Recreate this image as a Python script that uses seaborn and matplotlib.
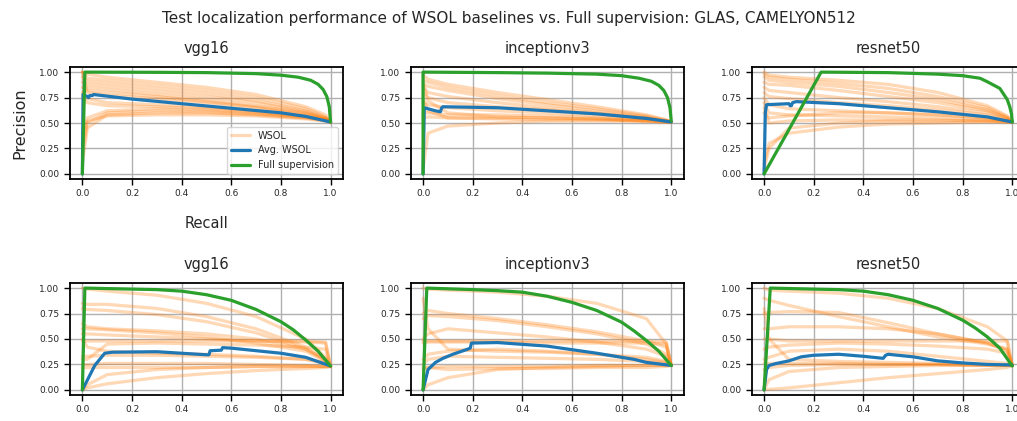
import matplotlib
matplotlib.use("Agg")
import matplotlib.pyplot as plt
import seaborn as sns

# shared recall grid for the WSOL curves
recall_grid = [0, 0.02, 0.1, 0.3, 0.5, 0.7, 0.9, 0.98, 1.0]

# ---- GLAS ----
glas_vgg_wsol = [
    [1.0, 0.98, 0.95, 0.90, 0.85, 0.78, 0.66, 0.58, 0.51],
    [1.0, 0.94, 0.92, 0.87, 0.82, 0.75, 0.64, 0.56, 0.51],
    [0.95, 0.91, 0.89, 0.84, 0.79, 0.72, 0.62, 0.55, 0.51],
    [0.90, 0.88, 0.86, 0.81, 0.76, 0.70, 0.61, 0.55, 0.51],
    [0.85, 0.85, 0.83, 0.78, 0.73, 0.67, 0.60, 0.54, 0.51],
    [0.80, 0.82, 0.80, 0.76, 0.71, 0.66, 0.59, 0.54, 0.51],
    [0.78, 0.74, 0.70, 0.68, 0.66, 0.62, 0.57, 0.53, 0.51],
    [0.75, 0.70, 0.67, 0.66, 0.64, 0.61, 0.56, 0.53, 0.51],
    [0.20, 0.50, 0.60, 0.62, 0.61, 0.59, 0.55, 0.53, 0.51],
    [0.10, 0.45, 0.58, 0.60, 0.60, 0.58, 0.55, 0.52, 0.51],
    [0.40, 0.55, 0.62, 0.64, 0.63, 0.60, 0.56, 0.53, 0.51],
    [1.0, 0.80, 0.77, 0.74, 0.70, 0.65, 0.58, 0.54, 0.51],
    [0.30, 0.52, 0.57, 0.58, 0.58, 0.57, 0.54, 0.52, 0.51],
]
glas_vgg_avg_r = [0, 0.003, 0.02, 0.025, 0.03, 0.04, 0.045, 0.2, 0.4, 0.6, 0.8, 0.9, 1.0]
glas_vgg_avg_p = [0.0, 0.78, 0.76, 0.75, 0.77, 0.77, 0.78, 0.735, 0.69, 0.645, 0.60, 0.565, 0.51]
glas_vgg_full_r = [0, 0.01, 0.3, 0.5, 0.7, 0.8, 0.87, 0.92, 0.95, 0.97, 0.985, 0.995, 1.0]
glas_vgg_full_p = [0.0, 1.0, 0.998, 0.995, 0.985, 0.97, 0.95, 0.92, 0.88, 0.83, 0.76, 0.66, 0.51]

glas_inc_wsol = [
    [0.97, 0.93, 0.88, 0.80, 0.73, 0.66, 0.58, 0.53, 0.51],
    [0.92, 0.90, 0.85, 0.77, 0.70, 0.64, 0.57, 0.53, 0.51],
    [0.88, 0.86, 0.82, 0.74, 0.68, 0.62, 0.56, 0.52, 0.51],
    [0.85, 0.80, 0.76, 0.70, 0.65, 0.60, 0.55, 0.52, 0.51],
    [0.80, 0.75, 0.70, 0.66, 0.63, 0.59, 0.55, 0.52, 0.51],
    [0.70, 0.68, 0.65, 0.62, 0.60, 0.57, 0.54, 0.52, 0.51],
    [0.60, 0.60, 0.58, 0.58, 0.57, 0.55, 0.53, 0.52, 0.51],
    [0.55, 0.56, 0.55, 0.55, 0.55, 0.54, 0.52, 0.51, 0.51],
    [0.05, 0.40, 0.47, 0.50, 0.52, 0.52, 0.52, 0.51, 0.51],
    [0.75, 0.62, 0.55, 0.54, 0.53, 0.53, 0.52, 0.51, 0.51],
    [0.90, 0.72, 0.60, 0.56, 0.55, 0.54, 0.52, 0.51, 0.51],
]
glas_inc_avg_r = [0, 0.005, 0.02, 0.05, 0.07, 0.075, 0.08, 0.3, 0.5, 0.7, 0.9, 1.0]
glas_inc_avg_p = [0.0, 0.65, 0.64, 0.62, 0.61, 0.65, 0.66, 0.65, 0.62, 0.59, 0.545, 0.51]
glas_inc_full_r = [0, 0.0, 0.3, 0.5, 0.7, 0.8, 0.87, 0.92, 0.95, 0.97, 0.985, 0.995, 1.0]
glas_inc_full_p = [0.0, 1.0, 0.995, 0.99, 0.98, 0.965, 0.94, 0.91, 0.87, 0.82, 0.75, 0.65, 0.52]

glas_res_wsol = [
    [1.0, 0.97, 0.95, 0.92, 0.88, 0.80, 0.67, 0.57, 0.51],
    [0.98, 0.95, 0.93, 0.89, 0.84, 0.76, 0.65, 0.56, 0.51],
    [0.95, 0.92, 0.90, 0.86, 0.80, 0.73, 0.63, 0.55, 0.51],
    [0.90, 0.88, 0.87, 0.82, 0.76, 0.70, 0.62, 0.55, 0.51],
    [0.85, 0.82, 0.80, 0.75, 0.71, 0.66, 0.60, 0.54, 0.51],
    [0.80, 0.76, 0.74, 0.70, 0.67, 0.63, 0.58, 0.53, 0.51],
    [0.75, 0.68, 0.64, 0.62, 0.60, 0.58, 0.55, 0.52, 0.51],
    [0.70, 0.60, 0.58, 0.57, 0.56, 0.55, 0.53, 0.52, 0.51],
    [0.65, 0.50, 0.52, 0.53, 0.53, 0.53, 0.52, 0.51, 0.51],
    [0.10, 0.30, 0.40, 0.46, 0.49, 0.50, 0.51, 0.51, 0.51],
    [0.05, 0.25, 0.45, 0.50, 0.52, 0.52, 0.52, 0.51, 0.51],
    [0.60, 0.55, 0.57, 0.60, 0.60, 0.58, 0.55, 0.52, 0.51],
]
glas_res_avg_r = [0, 0.005, 0.01, 0.1, 0.105, 0.11, 0.115, 0.13, 0.3, 0.5, 0.7, 0.9, 1.0]
glas_res_avg_p = [0.0, 0.60, 0.68, 0.69, 0.67, 0.67, 0.70, 0.71, 0.69, 0.65, 0.61, 0.56, 0.51]
glas_res_full_r = [0, 0.23, 0.5, 0.7, 0.8, 0.87, 0.9, 0.95, 0.98, 0.99, 0.997, 1.0]
glas_res_full_p = [0.0, 1.0, 0.995, 0.98, 0.965, 0.94, 0.905, 0.84, 0.73, 0.66, 0.59, 0.51]

# ---- CAMELYON512 ----
cam_vgg_wsol = [
    [1.0, 0.99, 0.97, 0.93, 0.85, 0.72, 0.50, 0.32, 0.23],
    [0.85, 0.84, 0.84, 0.80, 0.72, 0.60, 0.42, 0.30, 0.23],
    [0.80, 0.79, 0.78, 0.74, 0.67, 0.56, 0.40, 0.29, 0.23],
    [0.60, 0.60, 0.59, 0.56, 0.52, 0.46, 0.38, 0.28, 0.23],
    [0.55, 0.55, 0.54, 0.52, 0.50, 0.48, 0.48, 0.47, 0.23],
    [0.48, 0.48, 0.48, 0.48, 0.48, 0.48, 0.47, 0.46, 0.23],
    [0.33, 0.33, 0.34, 0.34, 0.33, 0.32, 0.30, 0.27, 0.23],
    [0.30, 0.30, 0.45, 0.46, 0.45, 0.44, 0.42, 0.40, 0.23],
    [0.25, 0.25, 0.26, 0.26, 0.26, 0.25, 0.24, 0.23, 0.23],
    [0.0, 0.02, 0.06, 0.12, 0.16, 0.19, 0.21, 0.22, 0.23],
    [0.0, 0.05, 0.15, 0.20, 0.22, 0.23, 0.23, 0.23, 0.23],
    [0.22, 0.22, 0.22, 0.22, 0.22, 0.23, 0.23, 0.23, 0.23],
    [0.50, 0.42, 0.38, 0.36, 0.35, 0.33, 0.30, 0.26, 0.23],
    [0.65, 0.62, 0.60, 0.58, 0.55, 0.50, 0.40, 0.30, 0.23],
]
cam_vgg_avg_r = [0, 0.05, 0.09, 0.12, 0.3, 0.5, 0.51, 0.515, 0.56, 0.565, 0.6, 0.8, 0.9, 1.0]
cam_vgg_avg_p = [0.0, 0.24, 0.36, 0.37, 0.375, 0.345, 0.345, 0.385, 0.39, 0.415, 0.41, 0.36, 0.32, 0.235]
cam_vgg_full_r = [0, 0.01, 0.2, 0.3, 0.4, 0.5, 0.6, 0.7, 0.8, 0.85, 0.9, 0.95, 1.0]
cam_vgg_full_p = [0.0, 1.0, 0.99, 0.985, 0.97, 0.935, 0.88, 0.79, 0.67, 0.59, 0.49, 0.38, 0.235]

cam_inc_wsol = [
    [1.0, 0.99, 0.98, 0.96, 0.92, 0.85, 0.70, 0.45, 0.24],
    [0.75, 0.78, 0.75, 0.70, 0.64, 0.57, 0.48, 0.42, 0.24],
    [0.70, 0.73, 0.72, 0.68, 0.62, 0.55, 0.45, 0.35, 0.24],
    [0.50, 0.55, 0.60, 0.56, 0.52, 0.47, 0.40, 0.33, 0.24],
    [0.48, 0.48, 0.48, 0.48, 0.48, 0.48, 0.48, 0.47, 0.24],
    [0.46, 0.47, 0.47, 0.47, 0.46, 0.46, 0.46, 0.45, 0.24],
    [0.30, 0.35, 0.38, 0.40, 0.38, 0.35, 0.30, 0.27, 0.24],
    [0.25, 0.30, 0.33, 0.32, 0.31, 0.30, 0.28, 0.26, 0.24],
    [0.22, 0.22, 0.23, 0.23, 0.23, 0.24, 0.24, 0.24, 0.24],
    [0.0, 0.05, 0.12, 0.20, 0.22, 0.23, 0.24, 0.24, 0.24],
    [0.20, 0.22, 0.20, 0.21, 0.21, 0.22, 0.22, 0.23, 0.24],
    [0.90, 0.60, 0.40, 0.38, 0.37, 0.35, 0.32, 0.28, 0.24],
]
cam_inc_avg_r = [0, 0.02, 0.05, 0.08, 0.12, 0.18, 0.19, 0.195, 0.3, 0.5, 0.7, 0.85, 0.9, 1.0]
cam_inc_avg_p = [0.0, 0.20, 0.27, 0.31, 0.35, 0.40, 0.41, 0.46, 0.465, 0.43, 0.36, 0.30, 0.27, 0.24]
cam_inc_full_r = [0, 0.015, 0.2, 0.3, 0.4, 0.5, 0.6, 0.7, 0.8, 0.85, 0.9, 0.95, 1.0]
cam_inc_full_p = [0.0, 1.0, 0.985, 0.975, 0.96, 0.92, 0.86, 0.78, 0.665, 0.58, 0.485, 0.38, 0.24]

cam_res_wsol = [
    [1.0, 0.98, 0.97, 0.95, 0.90, 0.80, 0.62, 0.48, 0.24],
    [0.90, 0.88, 0.83, 0.72, 0.62, 0.52, 0.45, 0.40, 0.24],
    [0.75, 0.76, 0.77, 0.76, 0.66, 0.55, 0.46, 0.40, 0.24],
    [0.60, 0.60, 0.62, 0.62, 0.60, 0.55, 0.46, 0.38, 0.24],
    [0.50, 0.50, 0.48, 0.48, 0.48, 0.48, 0.48, 0.48, 0.24],
    [0.40, 0.42, 0.44, 0.46, 0.45, 0.43, 0.40, 0.36, 0.24],
    [0.30, 0.32, 0.38, 0.40, 0.38, 0.33, 0.28, 0.26, 0.24],
    [0.26, 0.26, 0.26, 0.26, 0.25, 0.25, 0.24, 0.24, 0.24],
    [0.20, 0.22, 0.24, 0.25, 0.25, 0.25, 0.24, 0.24, 0.24],
    [0.0, 0.005, 0.02, 0.07, 0.12, 0.16, 0.20, 0.22, 0.24],
    [0.0, 0.10, 0.18, 0.22, 0.23, 0.24, 0.24, 0.24, 0.24],
    [0.80, 0.50, 0.30, 0.28, 0.27, 0.26, 0.25, 0.24, 0.24],
]
cam_res_avg_r = [0, 0.01, 0.02, 0.05, 0.1, 0.15, 0.2, 0.3, 0.4, 0.48, 0.49, 0.5, 0.6, 0.7, 0.8, 0.9, 1.0]
cam_res_avg_p = [0.0, 0.20, 0.24, 0.26, 0.285, 0.325, 0.34, 0.35, 0.33, 0.31, 0.34, 0.35, 0.325, 0.285, 0.265, 0.25, 0.245]
cam_res_full_r = [0, 0.025, 0.2, 0.3, 0.4, 0.5, 0.6, 0.7, 0.8, 0.85, 0.9, 0.95, 1.0]
cam_res_full_p = [0.0, 1.0, 0.99, 0.985, 0.97, 0.935, 0.88, 0.80, 0.685, 0.61, 0.52, 0.41, 0.235]

model_names = ["vgg16", "inceptionv3", "resnet50"]

panels = [
    [(glas_vgg_wsol, glas_vgg_avg_r, glas_vgg_avg_p, glas_vgg_full_r, glas_vgg_full_p),
     (glas_inc_wsol, glas_inc_avg_r, glas_inc_avg_p, glas_inc_full_r, glas_inc_full_p),
     (glas_res_wsol, glas_res_avg_r, glas_res_avg_p, glas_res_full_r, glas_res_full_p)],
    [(cam_vgg_wsol, cam_vgg_avg_r, cam_vgg_avg_p, cam_vgg_full_r, cam_vgg_full_p),
     (cam_inc_wsol, cam_inc_avg_r, cam_inc_avg_p, cam_inc_full_r, cam_inc_full_p),
     (cam_res_wsol, cam_res_avg_r, cam_res_avg_p, cam_res_full_r, cam_res_full_p)],
]

sns.set_style("whitegrid", {
    "axes.edgecolor": "black",
    "grid.color": "#b0b0b0",
    "xtick.bottom": True,
    "ytick.left": True,
})
plt.rcParams["font.family"] = ["DejaVu Sans"]
plt.rcParams["axes.linewidth"] = 1.3
plt.rcParams["xtick.major.size"] = 4
plt.rcParams["ytick.major.size"] = 4
plt.rcParams["xtick.major.width"] = 1
plt.rcParams["ytick.major.width"] = 1

fig = plt.figure(figsize=(10.17, 4.21), dpi=100)

lefts = [0.0688, 0.4038, 0.7391]
bottoms = [0.5748, 0.0618]
w, h = 0.2684, 0.266

for row in range(2):
    for col in range(3):
        ax = fig.add_axes([lefts[col], bottoms[row], w, h])
        wsol, ar, ap, fr, fp = panels[row][col]
        for curve in wsol:
            sns.lineplot(x=recall_grid, y=curve, ax=ax, color="tab:orange", alpha=0.3,
                         lw=2.3, sort=False, estimator=None)
        sns.lineplot(x=ar, y=ap, ax=ax, color="tab:blue", lw=2.3, sort=False, estimator=None)
        sns.lineplot(x=fr, y=fp, ax=ax, color="tab:green", lw=2.3, sort=False, estimator=None)
        ax.set_xticks([0, 0.2, 0.4, 0.6, 0.8, 1.0])
        ax.set_yticks([0, 0.25, 0.5, 0.75, 1.0])
        ax.tick_params(labelsize=6.5, colors="black", labelcolor="#262626")
        ax.grid(True, lw=1)
        ax.set_title(model_names[col], fontsize=10.5, pad=10)
        if row == 0 and col == 0:
            ax.set_xlabel("Recall", fontsize=10.5, labelpad=13)
            ax.set_ylabel("Precision", fontsize=11.5, labelpad=9)
            handles = [plt.Line2D([], [], color="tab:orange", alpha=0.3, lw=2.3),
                       plt.Line2D([], [], color="tab:blue", lw=2.3),
                       plt.Line2D([], [], color="tab:green", lw=2.3)]
            ax.legend(handles, ["WSOL", "Avg. WSOL", "Full supervision"],
                      loc="lower right", fontsize=7)

fig.suptitle("Test localization performance of WSOL baselines vs. Full supervision: GLAS, CAMELYON512",
             fontsize=11, y=0.975)

fig.savefig("out.png", dpi=100)
